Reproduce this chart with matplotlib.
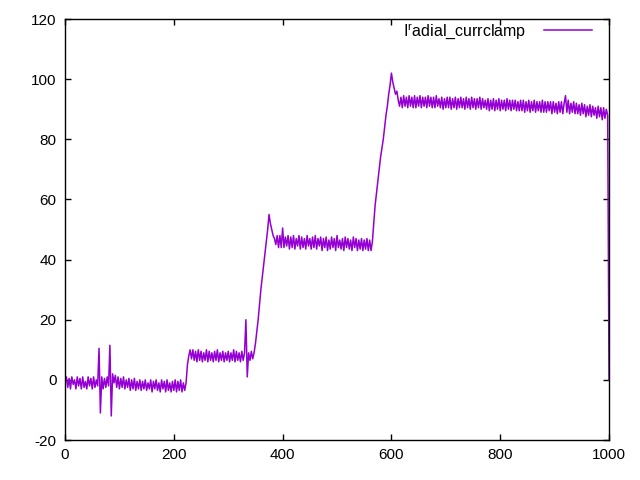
import numpy as np
import matplotlib.pyplot as plt

plt.rcParams['font.family'] = ['Liberation Sans', 'DejaVu Sans']
plt.rcParams['mathtext.fontset'] = 'custom'
plt.rcParams['mathtext.rm'] = 'Liberation Sans'
plt.rcParams['axes.unicode_minus'] = False

# sample positions, one every 2.5 units
time_x = np.arange(0, 1000.1, 2.5)

# current readings
seg_rest = [-1, 1, -2.5, 0.5, -3, 1, -1.5, 0, -3, 1,
            -2, 0.5, -3, 1, -2.5, -0.5, -3, 1, -2, 0.5,
            -3, 1, -2.5, 0, -2, 10.5, -11, 1, -3, 0.5,
            -2.5, 1, -2, 11.5, -12, 2, -1, 1.5, -2.5, 1,
            -3, 0.5, -2.5, 1, -3, 0, -2.5, 0.5, -3.5, 0,
            -3, 0.5, -3.5, -0.5, -3, 0, -3.5, -0.5, -3, 0,
            -3.5, -1, -3, 0, -4, -0.5, -3, 0, -3.5, -1,
            -4, 0, -3, -0.5, -4, 0, -3.5, -1, -4, -0.5,
            -3.5, 0, -4, -0.5, -3.5, 0, -4, -1, -3.5, -1]
seg_step1 = [5, 8, 10, 7, 10, 6.5, 9.5, 6, 10, 6.5,
             9.5, 6, 9, 6.5, 10, 6, 9.5, 6.5, 9, 6,
             9.5, 6.5, 10, 6, 9, 6.5, 9.5, 6, 9, 6.5,
             9.5, 6, 9, 6.5, 10, 6, 9.5, 6.5, 9, 6,
             9.5, 6.5, 9, 20, 1, 9, 6.5, 9.5, 7]
seg_rise1 = [9, 12, 16, 20, 25, 30, 34, 38, 42, 46, 50, 55, 52, 50, 48, 47]
seg_step2 = [45, 48, 44, 48, 44, 50.5, 44, 47.5, 44.5, 48,
             43.5, 47.5, 44, 48, 43.5, 47, 44.5, 48, 43.5, 47.5,
             44, 47, 43.5, 48, 44.5, 47, 43.5, 47.5, 44, 48,
             43.5, 47, 44.5, 47.5, 43, 47, 44, 47.5, 43, 46.5,
             43.5, 47.5, 44, 47, 43, 48, 44, 46.5, 43.5, 47,
             43, 47.5, 44, 47, 43.5, 46.5, 43, 47.5, 44, 47,
             43, 46.5, 43.5, 47, 43, 46.5, 43.5, 47, 43, 46.5,
             43, 46]
seg_rise2 = [52, 58, 62, 66, 70, 74, 77, 80, 84, 88,
             91, 95, 98, 102, 99, 97, 95, 96, 93]
seg_step3 = [91, 94, 90.5, 94.5, 91, 94, 90.5, 94.5, 91, 94,
             90.5, 94.5, 90.5, 94, 91, 94.5, 90.5, 94, 91, 94,
             90.5, 94.5, 91, 94, 90.5, 94, 90.5, 94.5, 91, 93.5,
             90.5, 94, 90, 93.5, 90.5, 94, 90.5, 94, 90, 93.5,
             90.5, 94, 90, 93.5, 90.5, 94, 90.5, 93.5, 90, 94,
             90.5, 93.5, 90, 94, 90.5, 93.5, 90, 93.5, 90.5, 94,
             90, 93.5, 90.5, 93, 90, 93.5, 89.5, 93, 90, 93.5,
             89.5, 93, 90, 93.5, 89.5, 93, 90, 93, 89.5, 93.5,
             90, 93, 89.5, 93, 90, 93, 89.5, 92.5, 89.5, 93,
             89.5, 93, 89, 92.5, 89.5, 93, 89, 92.5, 89.5, 93,
             89, 92.5, 89.5, 92.5, 89, 93, 89, 92.5, 89, 92.5,
             89.5, 92.5, 88.5, 92.5, 89, 92, 88.5, 92.5, 89, 92.5,
             88.5, 92, 94.5, 89, 93, 88.5, 92, 89, 92.5, 88.5,
             92, 88.5, 91.5, 88, 92, 88.5, 91.5, 87.5, 91, 88,
             91.5, 87.5, 91, 88, 90.5, 87, 91, 87.5, 90.5, 86.5,
             90.5, 87, 90, 88]
seg_end = [0]

current = np.array(seg_rest + seg_step1 + seg_rise1 + seg_step2
                   + seg_rise2 + seg_step3 + seg_end, dtype=float)

fig = plt.figure(figsize=(6.4, 4.8), dpi=100)
ax = fig.add_axes([0.1016, 0.0833, 0.85, 0.8771])

ax.plot(time_x, current, color='#9400D3', linewidth=1.1,
        label=r'I$^{\mathregular{r}}$adial_currclamp')

ax.set_xlim(0, 1000)
ax.set_ylim(-20, 120)
ax.set_xticks(np.arange(0, 1001, 200))
ax.set_yticks(np.arange(-20, 121, 20))
ax.tick_params(direction='in', length=4, width=1, top=True, right=True,
               labelsize=11, pad=6)
for s in ax.spines.values():
    s.set_linewidth(1)

ax.legend(loc='upper right', frameon=False, markerfirst=False,
          fontsize=11.5, handlelength=3.0, handletextpad=1.1,
          borderaxespad=0.0, bbox_to_anchor=(0.98, 1.01))

fig.savefig('out.png', dpi=100)
